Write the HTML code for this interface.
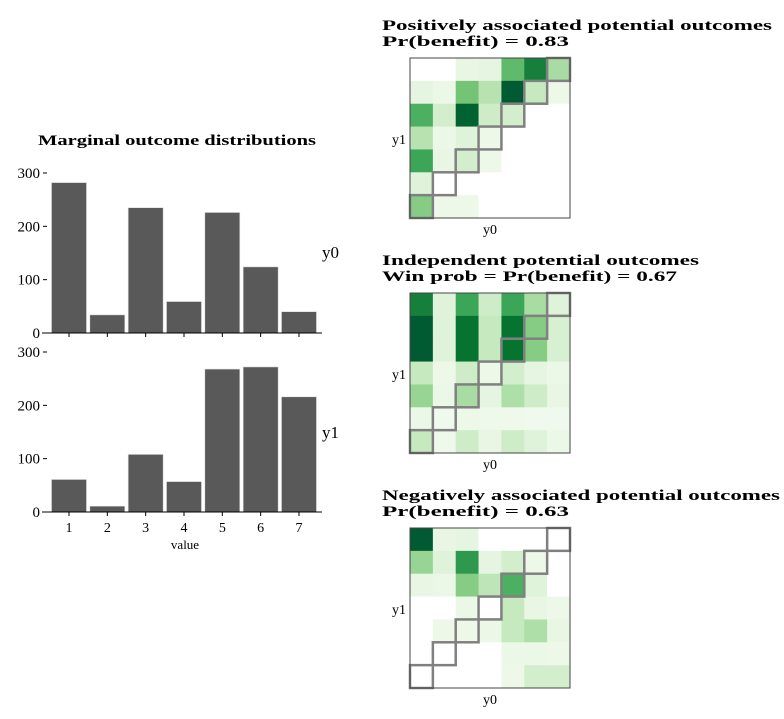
<!DOCTYPE html>
<html><head><meta charset="utf-8"><style>
body{margin:0;background:#fff;}
svg text{font-family:"Liberation Serif",serif;fill:#000;}
</style></head><body>
<svg id="s" width="784" height="714" xmlns="http://www.w3.org/2000/svg">
<text x="38" y="145" font-size="15" font-weight="bold" textLength="278" lengthAdjust="spacingAndGlyphs">Marginal outcome distributions</text>
<text x="322" y="258" font-size="17">y0</text>
<text x="322" y="438" font-size="17">y1</text>
<text x="185" y="549" text-anchor="middle" font-size="13">value</text>
<text x="382" y="30" font-size="15" font-weight="bold" textLength="390" lengthAdjust="spacingAndGlyphs">Positively associated potential outcomes</text>
<text x="382" y="46" font-size="15" font-weight="bold" textLength="187" lengthAdjust="spacingAndGlyphs">Pr(benefit) = 0.83</text>
<text x="382" y="265" font-size="15" font-weight="bold" textLength="317" lengthAdjust="spacingAndGlyphs">Independent potential outcomes</text>
<text x="382" y="281" font-size="15" font-weight="bold" textLength="295" lengthAdjust="spacingAndGlyphs">Win prob = Pr(benefit) = 0.67</text>
<text x="382" y="500" font-size="15" font-weight="bold" textLength="398" lengthAdjust="spacingAndGlyphs">Negatively associated potential outcomes</text>
<text x="382" y="516" font-size="15" font-weight="bold" textLength="187" lengthAdjust="spacingAndGlyphs">Pr(benefit) = 0.63</text>
</svg>
<script>
const categories=[1,2,3,4,5,6,7];
const y0Counts=[282,34,235,59,226,124,40];
const y1Counts=[61,11,108,57,268,272,216];
const yTicks=[0,100,200,300];
const heatPos=[
[0,0,.1,.12,.55,.8,.35],
[.12,.08,.5,.3,1,.25,.07],
[.6,.2,.95,.22,.2,0,0],
[.3,.08,.15,.07,0,0,0],
[.65,.1,.2,.07,0,0,0],
[.15,0,0,0,0,0,0],
[.45,.07,.07,0,0,0,0]];
const heatInd=[
[.8,.15,.65,.22,.65,.35,.15],
[1,.15,.85,.25,.85,.45,.18],
[1,.15,.85,.25,.85,.45,.18],
[.25,.07,.22,.07,.2,.12,.08],
[.4,.08,.35,.12,.33,.22,.1],
[.08,.05,.07,.06,.06,.05,.05],
[.25,.06,.22,.1,.22,.15,.08]];
const heatNeg=[
[1,.1,.12,0,0,0,0],
[.4,.15,.7,.12,.2,.07,0],
[.1,.08,.45,.28,.6,.15,0],
[0,0,.08,0,.25,.1,.07],
[0,.07,.07,.08,.25,.33,.1],
[0,0,0,0,.08,.08,.07],
[0,0,0,0,.07,.2,.2]];

const NS="http://www.w3.org/2000/svg";
const svg=document.getElementById('s');
function mk(t,a,p){const e=document.createElementNS(NS,t);for(const k in a)e.setAttribute(k,a[k]);(p||svg).appendChild(e);return e;}
const xC=c=>69+(c-1)*38.33;
function bars(vals,base,name,showLabels){
  const yS=v=>base-v*160/300;
  const g=mk('g',{});
  
  
  vals.forEach((v,i)=>{
    const r=mk('rect',{x:xC(categories[i])-17.5,y:yS(v),width:35,height:v*160/300,fill:'#595959',stroke:'#ddd','stroke-width':0.6},g);
    
    
  });
  const ax=mk('line',{x1:42,x2:322,y1:base,y2:base,stroke:'#000','stroke-width':1});
  
  
  categories.forEach(c=>{
    const t=mk('line',{x1:xC(c),x2:xC(c),y1:base,y2:base+4,stroke:'#000'});
    
    
    if(showLabels){
      const l=mk('text',{x:xC(c),y:base+20,'text-anchor':'middle','font-size':14});
      l.textContent=c;
      
      
    }
  });
  yTicks.forEach(v=>{
    const l=mk('text',{x:40,y:yS(v)+5,'text-anchor':'end','font-size':15});
    l.textContent=v;
    
    
    const t=mk('line',{x1:43,x2:47,y1:yS(v),y2:yS(v),stroke:'#000'});
    
    
  });
}
bars(y0Counts,333,'y0',false);
bars(y1Counts,512,'y1',true);

const stops=[[247,252,245],[229,245,224],[199,233,192],[161,217,155],[116,196,118],[65,171,93],[35,139,69],[0,109,44],[0,90,50]];
function green(v){
  if(v<=0)return '#fff';
  const p=v*(stops.length-1),i=Math.min(Math.floor(p),stops.length-2),f=p-i;
  const c=stops[i].map((s,k)=>Math.round(s+(stops[i+1][k]-s)*f));
  return 'rgb('+c.join(',')+')';
}
function heat(data,top,name){
  const x0=410,sz=160,cs=sz/7;
  const g=mk('g',{});
  
  
  data.forEach((row,r)=>row.forEach((v,c)=>{
    const e=mk('rect',{x:x0+c*cs,y:top+r*cs,width:cs+0.3,height:cs+0.3,fill:green(v)},g);
    
    
  }));
  for(let i=0;i<7;i++){
    const d=mk('rect',{x:x0+(6-i)*cs,y:top+i*cs,width:cs,height:cs,fill:'none',stroke:'#808080','stroke-width':2.5},g);
    
    
  }
  const b=mk('rect',{x:x0,y:top,width:sz,height:sz,fill:'none',stroke:'#444','stroke-width':1},g);
  
  
  const yl=mk('text',{x:392,y:top+86,'font-size':14});
  yl.textContent='y1';
  
  
  const xl=mk('text',{x:490,y:top+176,'text-anchor':'middle','font-size':14});
  xl.textContent='y0';
  
  
}
heat(heatPos,58,'pos');
heat(heatInd,293,'ind');
heat(heatNeg,528,'neg');
</script>
</body></html>
